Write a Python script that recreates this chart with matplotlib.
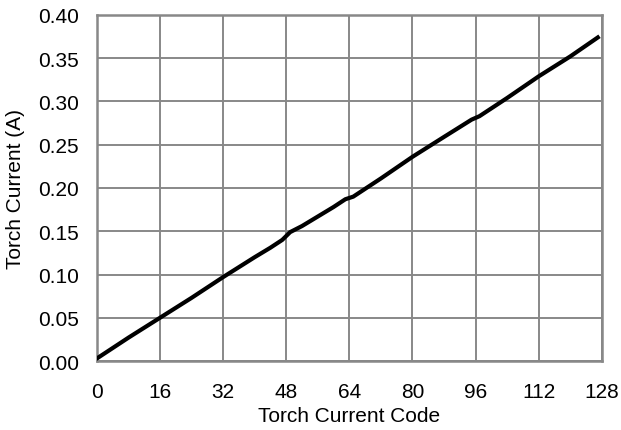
import matplotlib
matplotlib.use('Agg')
import matplotlib.pyplot as plt
import numpy as np

codes = [0, 8, 16, 24, 32, 40, 44, 47, 49, 52, 56, 60, 63, 65, 72, 80, 88, 95, 97, 104, 112, 120, 127]
current = [0.003, 0.027, 0.050, 0.073, 0.097, 0.120, 0.131, 0.140, 0.149, 0.156, 0.167, 0.178,
           0.187, 0.190, 0.211, 0.236, 0.259, 0.279, 0.283, 0.304, 0.329, 0.352, 0.374]

x_ticks = np.arange(0, 129, 16)
y_ticks = np.arange(0, 0.401, 0.05)

plt.rcParams['font.family'] = ['Liberation Sans', 'DejaVu Sans']
plt.rcParams['font.size'] = 15

fig = plt.figure(figsize=(6.21, 4.31), dpi=100)
ax = fig.add_axes([0.156, 0.160, 0.813, 0.803])

ax.plot(codes, current, color='black', linewidth=3, zorder=3)

ax.set_xlim(0, 128)
ax.set_ylim(0, 0.40)
ax.set_xticks(x_ticks)
ax.set_yticks(y_ticks)
ax.set_yticklabels(['%.2f' % v for v in y_ticks])
ax.grid(True, color='#888888', linewidth=1.4)
for s in ax.spines.values():
    s.set_color('#888888')
    s.set_linewidth(1.8)
ax.tick_params(axis='y', length=0, pad=13, labelsize=15)
ax.tick_params(axis='x', length=0, pad=15, labelsize=15)
ax.set_xlabel('Torch Current Code', fontsize=15, labelpad=4)
ax.set_ylabel('Torch Current (A)', fontsize=15, labelpad=9)

plt.savefig('out.png', dpi=100)
plt.close()
